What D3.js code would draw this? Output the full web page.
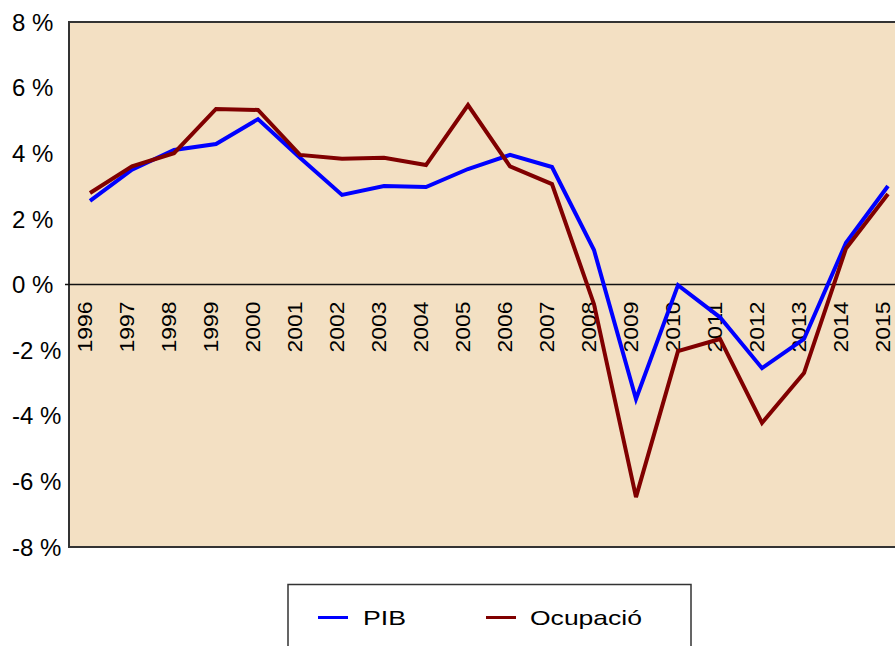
<!DOCTYPE html>
<html>
<head>
<meta charset="utf-8">
<script src="https://cdn.jsdelivr.net/npm/d3@7"></script>
<style>
  body { margin: 0; background: #fff; }
  svg { display: block; font-family: "Liberation Sans", Arial, sans-serif; }
</style>
</head>
<body>
<div id="chart"></div>
<script>
// dades
const years = ["1996","1997","1998","1999","2000","2001","2002","2003","2004","2005",
               "2006","2007","2008","2009","2010","2011","2012","2013","2014","2015"];
const pib = [2.55, 3.5, 4.1, 4.28, 5.04, 3.86, 2.73, 3.0, 2.97, 3.52,
             3.95, 3.58, 1.05, -3.49, -0.02, -1.0, -2.55, -1.66, 1.27, 3.0];
const ocupacio = [2.79, 3.6, 4.0, 5.35, 5.32, 3.95, 3.83, 3.86, 3.64, 5.47,
                  3.6, 3.06, -0.6, -6.48, -2.03, -1.66, -4.22, -2.7, 1.1, 2.76];
const yTicks = [8, 6, 4, 2, 0, -2, -4, -6, -8];
const series = [
    { name: "PIB", values: pib, color: "#0000ff" },
    { name: "Ocupació", values: ocupacio, color: "#800000" }
];

const W = 895, H = 646;
const plot = { left: 69, top: 22, bottom: 547, right: 69 + 20 * 42 };

const svg = d3.select("#chart").append("svg")
    .attr("width", W)
    .attr("height", H);

const x = d3.scaleBand()
    .domain(years)
    .range([plot.left, plot.right]);

const y = d3.scaleLinear()
    .domain([-8, 8])
    .range([plot.bottom, plot.top]);

// fons de l'àrea del gràfic
svg.append("rect")
    .attr("x", plot.left)
    .attr("y", plot.top)
    .attr("width", plot.right - plot.left)
    .attr("height", plot.bottom - plot.top)
    .attr("fill", "#f3e0c3")
    .attr("stroke", "#333")
    .attr("stroke-width", 2);

// etiquetes eix Y
svg.append("g")
    .selectAll("text")
    .data(yTicks)
    .enter().append("text")
    .attr("x", 12)
    .attr("y", d => y(d))
    .attr("dy", "0.36em")
    .style("font-size", "24px")
    .text(d => d + " %");

// línia del zero
svg.append("line")
    .attr("x1", plot.left - 4)
    .attr("x2", plot.right)
    .attr("y1", y(0))
    .attr("y2", y(0))
    .attr("stroke", "#111")
    .attr("stroke-width", 1.5);

// etiquetes anys (verticals)
svg.append("g")
    .selectAll("text")
    .data(years)
    .enter().append("text")
    .attr("transform", d => `translate(${x(d) + x.bandwidth() / 2 + 2}, ${y(0) + 17}) rotate(-90)`)
    .attr("text-anchor", "end")
    .attr("textLength", 51)
    .attr("lengthAdjust", "spacingAndGlyphs")
    .style("font-size", "20px")
    .text(d => d);

// sèries
const line = d3.line()
    .x((d, i) => x(years[i]) + x.bandwidth() / 2)
    .y(d => y(d));

series.forEach(s => {
    svg.append("path")
        .datum(s.values)
        .attr("d", line)
        .attr("fill", "none")
        .attr("stroke", s.color)
        .attr("stroke-width", 4)
        .attr("stroke-linejoin", "miter");
});

// llegenda
const legend = svg.append("g");
legend.append("rect")
    .attr("x", 288)
    .attr("y", 584.5)
    .attr("width", 403)
    .attr("height", 80)
    .attr("fill", "#fff")
    .attr("stroke", "#333")
    .attr("stroke-width", 1.5);

const legendPos = [{ lx: 318, tx: 363, len: 43 }, { lx: 486, tx: 530, len: 112 }];
series.forEach((s, i) => {
    legend.append("line")
        .attr("x1", legendPos[i].lx)
        .attr("x2", legendPos[i].lx + 30)
        .attr("y1", 617.5)
        .attr("y2", 617.5)
        .attr("stroke", s.color)
        .attr("stroke-width", 3);
    legend.append("text")
        .attr("x", legendPos[i].tx)
        .attr("y", 617.5)
        .attr("dy", "0.36em")
        .attr("textLength", legendPos[i].len)
        .attr("lengthAdjust", "spacingAndGlyphs")
        .style("font-size", "21px")
        .text(s.name);
});
</script>
</body>
</html>
